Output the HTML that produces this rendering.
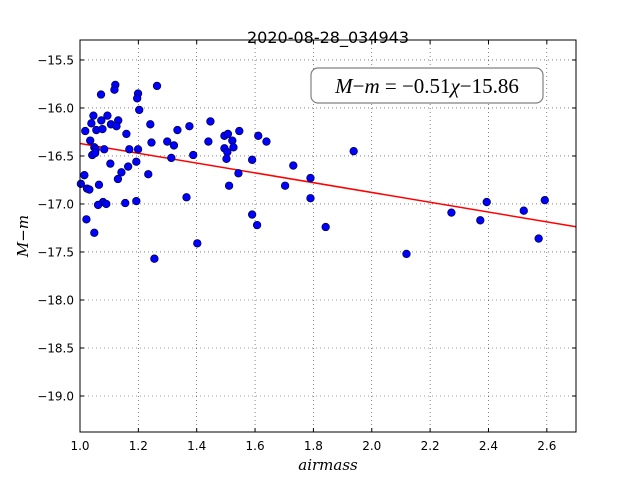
<!DOCTYPE html>
<html><head><meta charset="utf-8"><style>
html,body{margin:0;padding:0;background:#fff;}
svg{display:block;}
.sans{font-family:"DejaVu Sans","Liberation Sans",sans-serif;}
.serif{font-family:"DejaVu Serif","Liberation Serif",serif;font-style:italic;}
</style></head><body>
<svg id="chart" width="640" height="480" xmlns="http://www.w3.org/2000/svg">
<rect x="0" y="0" width="640" height="480" fill="#fff"/>
<text class="sans" x="328" y="43" text-anchor="middle" font-size="16">2020-08-28_034943</text>
<g id="grid"></g>
<g id="fit"></g>
<g id="pts"></g>
<rect x="80" y="40" width="496" height="392" fill="none" stroke="#000" stroke-width="1"/>
<g id="ticks"></g>
<g>
<rect x="311" y="68" width="232" height="35" rx="7" fill="#fff" stroke="#808080" stroke-width="1.2"/>
<text x="427" y="93" text-anchor="middle" font-size="21" style="font-family:'Liberation Serif',serif"><tspan font-style="italic">M</tspan>−<tspan font-style="italic">m</tspan> = −0.51<tspan font-style="italic">χ</tspan>−15.86</text>
</g>
<text class="serif" x="328" y="470" text-anchor="middle" font-size="15">airmass</text>
<text class="serif" transform="translate(28,236) rotate(-90)" text-anchor="middle" font-size="15">M−m</text>
</svg>
<script>
const xTicks=[1.0,1.2,1.4,1.6,1.8,2.0,2.2,2.4,2.6];
const yTicks=[-15.5,-16.0,-16.5,-17.0,-17.5,-18.0,-18.5,-19.0];
const xDomain=[1.0,2.7];
const yDomain=[-19.375,-15.292];
const slope=-0.51;
const intercept=-15.86;
const airmass=[1.121,1.072,1.118,1.199,1.196,1.264,1.203,1.046,1.094,1.073,1.131,1.039,1.106,1.125,1.241,1.018,1.056,1.077,1.159,1.334,1.375,1.447,1.035,1.245,1.299,1.322,1.440,1.495,1.507,1.546,1.611,1.639,1.522,1.049,1.054,1.083,1.042,1.052,1.169,1.199,1.313,1.388,1.495,1.505,1.526,1.502,1.590,1.104,1.193,1.165,1.142,1.015,1.130,1.234,1.543,1.003,1.065,1.024,1.032,1.511,1.365,1.079,1.062,1.090,1.155,1.193,1.022,1.590,1.607,1.049,1.402,1.255,1.938,1.731,1.790,1.703,1.790,1.842,2.119,2.273,2.372,2.394,2.521,2.572,2.593];
const mag=[-15.76,-15.86,-15.81,-15.85,-15.90,-15.77,-16.02,-16.08,-16.08,-16.13,-16.13,-16.16,-16.17,-16.19,-16.17,-16.24,-16.23,-16.22,-16.27,-16.23,-16.19,-16.14,-16.34,-16.36,-16.35,-16.39,-16.35,-16.29,-16.27,-16.24,-16.29,-16.35,-16.34,-16.41,-16.43,-16.43,-16.49,-16.47,-16.43,-16.43,-16.52,-16.49,-16.42,-16.46,-16.41,-16.53,-16.54,-16.58,-16.56,-16.61,-16.67,-16.70,-16.74,-16.69,-16.68,-16.79,-16.80,-16.84,-16.85,-16.81,-16.93,-16.98,-17.01,-17.00,-16.99,-16.97,-17.16,-17.11,-17.22,-17.30,-17.41,-17.57,-16.45,-16.60,-16.73,-16.81,-16.94,-17.24,-17.52,-17.09,-17.17,-16.98,-17.07,-17.36,-16.96];
const L=80,R=576,T=40,B=432;
const sx=v=>L+(v-xDomain[0])/(xDomain[1]-xDomain[0])*(R-L);
const sy=v=>B-(v-yDomain[0])/(yDomain[1]-yDomain[0])*(B-T);
const NS='http://www.w3.org/2000/svg';
function mk(tag,attrs,parent){const e=document.createElementNS(NS,tag);for(const k in attrs)e.setAttribute(k,attrs[k]);parent.appendChild(e);return e;}
const grid=document.getElementById('grid'),ticks=document.getElementById('ticks');
xTicks.forEach(v=>{const x=sx(v);
 const g=mk('line',{x1:x,x2:x,y1:T,y2:B,stroke:'#000','stroke-width':0.6,'stroke-dasharray':'1,3',opacity:0.8},grid);
 
 
 mk('line',{x1:x,x2:x,y1:B,y2:B-4,stroke:'#000'},ticks);
 mk('line',{x1:x,x2:x,y1:T,y2:T+4,stroke:'#000'},ticks);
 const t=mk('text',{x:x,y:B+18,'text-anchor':'middle','font-size':12,'class':'sans'},ticks);
 t.textContent=v.toFixed(1);
 
 
});
yTicks.forEach(v=>{const y=sy(v);
 const g=mk('line',{x1:L,x2:R,y1:y,y2:y,stroke:'#000','stroke-width':0.6,'stroke-dasharray':'1,3',opacity:0.8},grid);
 
 
 mk('line',{x1:L,x2:L+4,y1:y,y2:y,stroke:'#000'},ticks);
 mk('line',{x1:R,x2:R-4,y1:y,y2:y,stroke:'#000'},ticks);
 const t=mk('text',{x:L-6,y:y+4.5,'text-anchor':'end','font-size':12,'class':'sans'},ticks);
 t.textContent='\u2212'+Math.abs(v).toFixed(1);
 
 
});
const fit=document.getElementById('fit');
const ln=mk('line',{x1:sx(xDomain[0]),y1:sy(slope*xDomain[0]+intercept),x2:sx(xDomain[1]),y2:sy(slope*xDomain[1]+intercept),stroke:'#ff0000','stroke-width':1.5},fit);


const pts=document.getElementById('pts');
airmass.forEach((a,i)=>{
 const c=mk('circle',{cx:sx(a),cy:sy(mag[i]),r:3.8,fill:'#0000ff',stroke:'#00003a','stroke-width':0.7},pts);
 
 
});
</script>
</body></html>
